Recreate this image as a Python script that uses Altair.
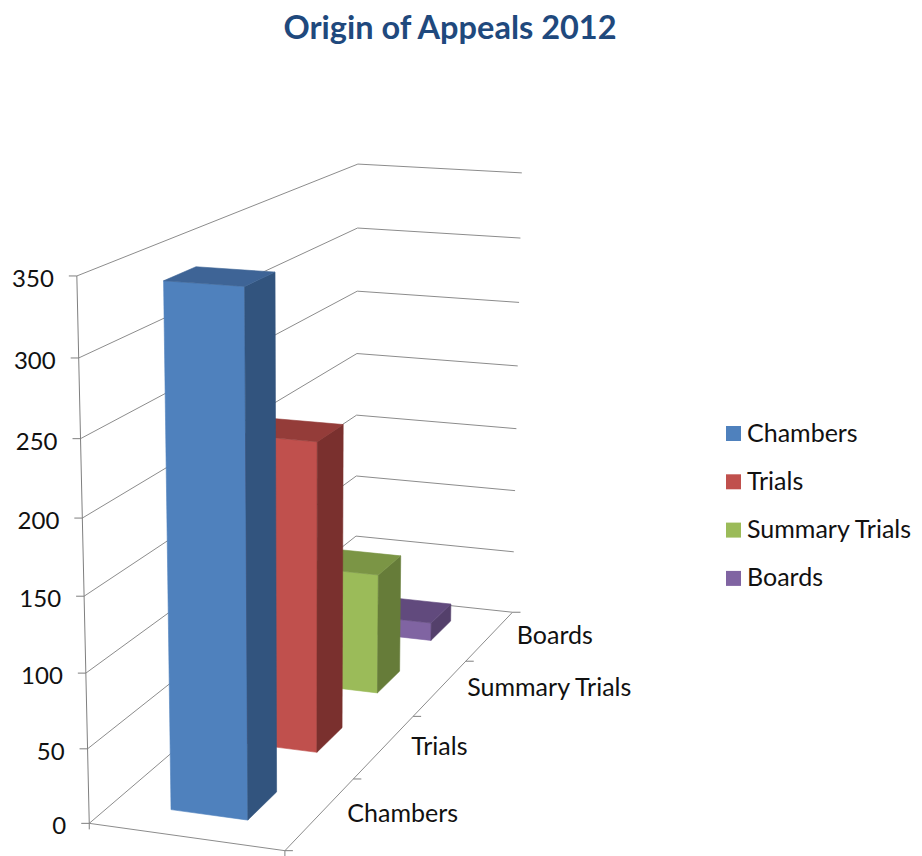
import numpy as np
import pandas as pd
import altair as alt

TITLE = "Origin of Appeals 2012"
categories = ["Chambers", "Trials", "Summary Trials", "Boards"]
values = [343, 217, 89, 14]
value_ticks = [0, 50, 100, 150, 200, 250, 300, 350]
front_colors = ["#4f81bd", "#c0504d", "#9bbb59", "#8064a2"]
side_colors = ["#32547e", "#7a302e", "#667c39", "#54406b"]
top_colors = ["#3e6496", "#943c39", "#7b9545", "#614a7d"]
BAR_SHARE = 0.4
FONT = "Lato"
INK = "#111111"
GRID = "#8c8c8c"
AXIS = "#7f7f7f"

# Camera calibration of the picture's 3D box: (across, depth, value) -> page position
box_world = [(0, 0, 0), (1, 0, 0), (1, 1, 0), (0, 1, 0), (0, 0, 350), (0, 1, 350), (1, 1, 350),
             (0, 1, 50), (0, 1, 100), (0, 1, 150), (1, 1, 50), (1, 1, 100), (1, 1, 150)]
box_page = [(89, 823), (285, 851), (512, 612), (355.5, 596), (77, 276), (357, 164), (522, 173),
            (356, 536), (357, 476), (357, 415), (513.5, 552), (515, 490), (517, 429)]


def fit_camera():
    rows = []
    for (a, d, v), (px, py) in zip(box_world, box_page):
        w = [a, d, v / 350, 1]
        rows.append(w + [0, 0, 0, 0] + [-px * c for c in w])
        rows.append([0, 0, 0, 0] + w + [-py * c for c in w])
    return np.linalg.svd(np.array(rows))[2][-1].reshape(3, 4)


CAM = fit_camera()


def project(a, d, v):
    p = CAM @ np.array([a, d, v / 350, 1])
    return float(p[0] / p[2]), float(p[1] / p[2])


def area_rows(pid, shade, corners):
    """Convex polygon as lower/upper envelope rows for an area mark."""
    xs = sorted({c[0] for c in corners})
    rows = []
    n = len(corners)
    for x in xs:
        hits = []
        for i in range(n):
            (x1, y1), (x2, y2) = corners[i], corners[(i + 1) % n]
            if min(x1, x2) <= x <= max(x1, x2):
                if x1 == x2:
                    hits += [y1, y2]
                else:
                    hits.append(y1 + (y2 - y1) * (x - x1) / (x2 - x1))
        rows.append({"pid": pid, "shade": shade, "x": x, "y": min(hits), "y2": max(hits)})
    return rows


poly_rows = []
n_cat = len(categories)
a0, a1 = 0.5 - BAR_SHARE / 2, 0.5 + BAR_SHARE / 2
for i in range(n_cat - 1, -1, -1):
    d0 = (i + 0.5 - BAR_SHARE / 2) / n_cat
    d1 = (i + 0.5 + BAR_SHARE / 2) / n_cat
    v = values[i]
    poly_rows += area_rows(f"{i}-front", front_colors[i],
                           [project(a0, d0, 0), project(a1, d0, 0), project(a1, d0, v), project(a0, d0, v)])
    poly_rows += area_rows(f"{i}-side", side_colors[i],
                           [project(a1, d0, 0), project(a1, d1, 0), project(a1, d1, v), project(a1, d0, v)])
    poly_rows += area_rows(f"{i}-top", top_colors[i],
                           [project(a0, d0, v), project(a1, d0, v), project(a1, d1, v), project(a0, d1, v)])
polys = pd.DataFrame(poly_rows)


def seg(a, b, color):
    return {"x": a[0], "y": a[1], "x2": b[0], "y2": b[1], "c": color}


grid_rows = []
for t in value_ticks:
    grid_rows.append(seg(project(0, 0, t), project(0, 1, t), GRID))
    grid_rows.append(seg(project(0, 1, t), project(1, 1, t), GRID))
grid_rows.append(seg(project(0, 0, 0), project(1, 0, 0), GRID))
grid_rows.append(seg(project(1, 0, 0), project(1, 1, 0), GRID))
grid_rows.append(seg(project(0, 0, 0), project(0, 0, 350), AXIS))
grid = pd.DataFrame(grid_rows)

tick_pts = pd.DataFrame(
    [{"x": project(0, 0, t)[0], "y": project(0, 0, t)[1]} for t in value_ticks])
depth_pts = pd.DataFrame(
    [{"x": project(1, k / n_cat, 0)[0], "y": project(1, k / n_cat, 0)[1]} for k in range(n_cat + 1)])
foot_pts = pd.DataFrame([{"x": project(a, 0, 0)[0], "y": project(a, 0, 0)[1]} for a in (0, 1)])

value_labels = pd.DataFrame(
    [{"x": project(0, 0, t)[0], "y": project(0, 0, t)[1], "t": str(t)} for t in value_ticks])
cat_labels = pd.DataFrame(
    [{"x": project(1, (k + 0.5) / n_cat, 0)[0], "y": project(1, (k + 0.5) / n_cat, 0)[1], "t": c}
     for k, c in enumerate(categories)])

PLOT_TOP = 54
X = alt.X("x:Q", axis=None, scale=alt.Scale(domain=[8, 914], nice=False, zero=False))
Y = alt.Y("y:Q", axis=None, scale=alt.Scale(domain=[848, PLOT_TOP], nice=False, zero=False))

grid_layer = alt.Chart(grid).mark_rule(strokeWidth=1).encode(
    x=X, y=Y, x2="x2:Q", y2="y2:Q", stroke=alt.Stroke("c:N", scale=None))

# one layer per face, painted back to front
face_layers = []
for pid in polys["pid"].unique():
    face = polys[polys["pid"] == pid].sort_values("x")
    shade = face["shade"].iloc[0]
    face_layers.append(
        alt.Chart(face).mark_area(color=shade, stroke=shade, strokeWidth=0.6, opacity=1).encode(
            x=X, y=Y, y2="y2:Q")
    )


def tick_layer(df, dx, dy):
    d = df.copy()
    d["x2"] = d["x"] + dx
    d["y2"] = d["y"] + dy
    return alt.Chart(d).mark_rule(strokeWidth=1, stroke=AXIS).encode(x=X, y=Y, x2="x2:Q", y2="y2:Q")


val_text = alt.Chart(value_labels).mark_text(
    align="right", baseline="middle", dx=-23, dy=4, font=FONT, fontSize=24, color=INK
).encode(x=X, y=Y, text="t:N")
cat_text = alt.Chart(cat_labels).mark_text(
    align="left", baseline="middle", dx=27, dy=0, font=FONT, fontSize=25, color=INK
).encode(x=X, y=Y, text="t:N")

legend_df = pd.DataFrame({"series": categories})
legend_layer = alt.Chart(legend_df).mark_square(opacity=0).encode(
    color=alt.Color(
        "series:N",
        scale=alt.Scale(domain=categories, range=front_colors),
        legend=alt.Legend(
            title=None, orient="none", legendX=713, legendY=367,
            symbolType="square", symbolSize=225, symbolOpacity=1, symbolStrokeWidth=0,
            labelFont=FONT, labelFontSize=25, labelColor=INK, labelOffset=1,
            rowPadding=22.3, labelLimit=300,
        ),
    )
)

chart = alt.layer(
    grid_layer, *face_layers,
    tick_layer(tick_pts, -8, 0), tick_layer(depth_pts, 8, 0), tick_layer(foot_pts, 0, 6),
    val_text, cat_text, legend_layer,
).properties(
    width=906, height=848 - PLOT_TOP,
    padding={"left": 0, "right": 0, "top": 4, "bottom": 0},
    title=alt.TitleParams(TITLE, font=FONT, fontSize=32.5, fontWeight="bold", color="#1f497d",
                          anchor="middle", dx=-11, offset=9),
).configure_view(stroke=None)

chart.save("out.html", embed_options={"renderer": "svg", "actions": False})
